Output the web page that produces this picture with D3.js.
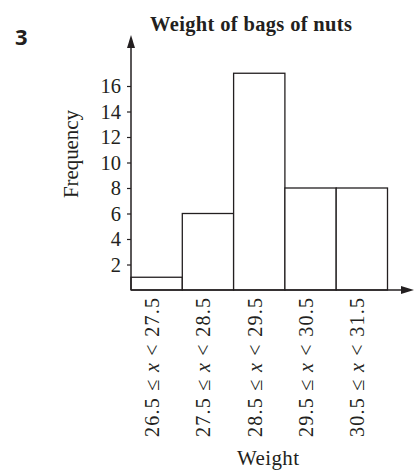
<!DOCTYPE html>
<html>
<head>
<meta charset="utf-8">
<script src="https://cdn.jsdelivr.net/npm/d3@7"></script>
<style>
html,body{margin:0;padding:0;background:#fff;}
svg{display:block;}
</style>
</head>
<body>
<svg id="chart" width="417" height="473"></svg>
<script>
const lowerBounds = ["26.5", "27.5", "28.5", "29.5", "30.5"];
const upperBounds = ["27.5", "28.5", "29.5", "30.5", "31.5"];
const frequencies = [1, 6, 17, 8, 8];
const yTicks = [2, 4, 6, 8, 10, 12, 14, 16];

const svg = d3.select("#chart");
const serif = "'Liberation Serif', 'Times New Roman', serif";
const ink = "#231f20";

const x0 = 131, baseY = 290;
const x = d3.scaleLinear().domain([26.5, 31.5]).range([131, 387.5]);
const y = d3.scaleLinear().domain([0, 16]).range([baseY, 86]);

// bars
svg.append("g").selectAll("rect").data(frequencies).join("rect")
  .attr("x", (d, i) => x(+lowerBounds[i]))
  .attr("y", d => y(d))
  .attr("width", (d, i) => x(+upperBounds[i]) - x(+lowerBounds[i]))
  .attr("height", d => baseY - y(d))
  .attr("fill", "#fff")
  .attr("stroke", ink)
  .attr("stroke-width", 1.3);

// y axis
const yAxis = d3.axisLeft(y).tickValues(yTicks).tickSize(4).tickPadding(6);
const gy = svg.append("g").attr("transform", `translate(${x0},0)`).call(yAxis);
gy.select(".domain").remove();
gy.selectAll(".tick line").attr("stroke", ink).attr("stroke-width", 1.2);
gy.selectAll(".tick text").attr("font-family", serif).attr("font-size", 20.5).attr("fill", ink);

// axis lines with arrows
svg.append("line").attr("x1", x0).attr("x2", x0).attr("y1", baseY).attr("y2", 44)
  .attr("stroke", ink).attr("stroke-width", 1.5);
svg.append("path").attr("d", `M${x0},35 L${x0-4},48 L${x0+4},48 Z`).attr("fill", ink);
svg.append("line").attr("x1", x0).attr("x2", 404).attr("y1", baseY).attr("y2", baseY)
  .attr("stroke", ink).attr("stroke-width", 1.5);
svg.append("path").attr("d", `M414,${baseY} L401,${baseY-4} L401,${baseY+4} Z`).attr("fill", ink);

// x labels (rotated)
const lab = svg.append("g").selectAll("text").data(lowerBounds).join("text")
  .attr("transform", (d, i) => {
    const cx = (x(+lowerBounds[i]) + x(+upperBounds[i])) / 2 + 2.5;
    return `translate(${cx},298) rotate(-90)`;
  })
  .attr("text-anchor", "end")
  .attr("font-family", serif)
  .attr("font-size", 20)
  .attr("textLength", 139)
  .attr("lengthAdjust", "spacing")
  .attr("fill", ink);
lab.append("tspan").text(d => d + " ≤ ");
lab.append("tspan").attr("font-style", "italic").text("x");
lab.append("tspan").text((d, i) => " < " + upperBounds[i]);

// axis titles
svg.append("text").attr("x", 268).attr("y", 465).attr("text-anchor", "middle")
  .attr("font-family", serif).attr("font-size", 21).attr("textLength", 62).attr("fill", ink).text("Weight");
svg.append("text").attr("transform", "translate(78,154) rotate(-90)").attr("text-anchor", "middle")
  .attr("font-family", serif).attr("font-size", 21).attr("textLength", 88).attr("fill", ink).text("Frequency");

// title
svg.append("text").attr("x", 251).attr("y", 31).attr("text-anchor", "middle")
  .attr("font-family", serif).attr("font-weight", "bold").attr("font-size", 20.5).attr("textLength", 202)
  .attr("fill", ink)
  .text("Weight of bags of nuts");

// question number
svg.append("text").attr("x", 15).attr("y", 45)
  .attr("font-family", "'Open Sans', 'Noto Sans', sans-serif").attr("font-weight", "bold")
  .attr("font-size", 22).attr("fill", ink).text("3");
</script>
</body>
</html>
